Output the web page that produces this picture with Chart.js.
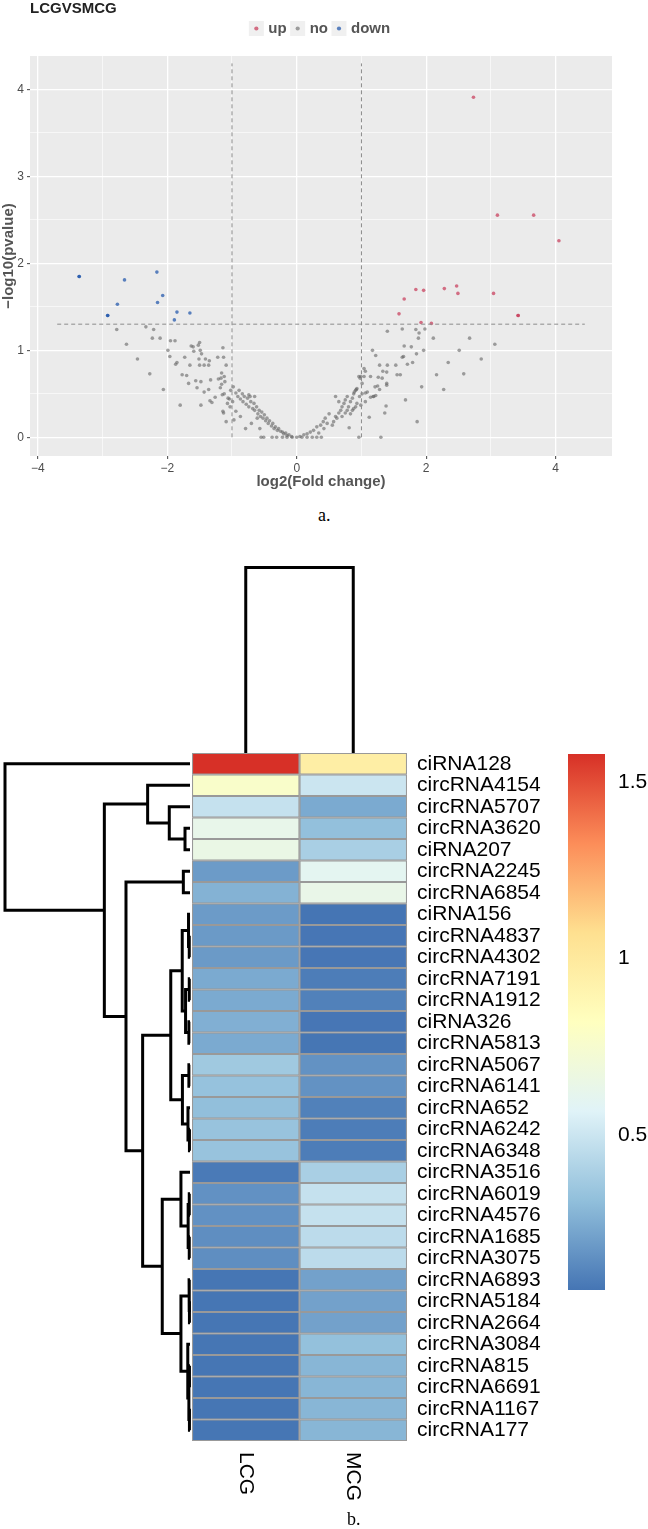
<!DOCTYPE html>
<html>
<head>
<meta charset="utf-8">
<script src="https://cdn.jsdelivr.net/npm/chart.js@4.4.1/dist/chart.umd.min.js"></script>
<style>
  body { margin: 0; background: #fff; }
  #fig { position: relative; width: 648px; height: 1529px; overflow: hidden; background: #fff; }
  #fig canvas { position: absolute; }
  .cap { position: absolute; font-family: "Liberation Serif", serif; font-size: 18px; color: #000; }
</style>
</head>
<body>
<div id="fig">
  <canvas id="volcano" width="648" height="500" style="left:0;top:0"></canvas>
  <div class="cap" style="left:318px;top:505px">a.</div>
  <canvas id="colTree" width="215" height="193" style="left:192px;top:560px"></canvas>
  <canvas id="rowTree" width="192" height="714" style="left:0;top:740px"></canvas>
  <canvas id="heat" width="458" height="789" style="left:190px;top:740px"></canvas>
  <canvas id="scaleBar" width="88" height="556" style="left:560px;top:744px"></canvas>
  <div class="cap" style="left:347px;top:1509px">b.</div>
</div>
<script>
// ---------- a. volcano plot data (log2 fold change, -log10 p) ----------
const upPoints = [
    [2.73, 3.91], [3.10, 2.555], [3.66, 2.555], [4.05, 2.26],
    [1.58, 1.42], [1.66, 1.59], [1.84, 1.70], [1.96, 1.69], [2.28, 1.71],
    [2.47, 1.74], [2.49, 1.655], [3.04, 1.655], [3.42, 1.40], [3.42, 1.40],
    [1.92, 1.32], [2.08, 1.31]
];
const downPoints = [
    [-3.36, 1.85], [-3.36, 1.85], [-2.66, 1.81], [-2.16, 1.90], [-2.07, 1.63],
    [-2.15, 1.55], [-2.77, 1.53], [-2.92, 1.40], [-2.92, 1.40], [-1.85, 1.44],
    [-1.65, 1.43], [-1.89, 1.35]
];
const noPoints = [
    [-2.78, 1.24], [-2.33, 1.27], [-2.21, 1.24], [-2.63, 1.07], [-2.23, 1.14], [-2.11, 1.14],
    [-2.46, 0.90], [-2.27, 0.73], [-2.06, 0.55], [-1.99, 1.00], [-1.96, 0.93], [-1.95, 1.11],
    [-1.88, 1.11], [-1.87, 0.84], [-1.85, 0.86], [-1.73, 0.92], [-1.80, 0.37], [-1.77, 0.72],
    [-1.70, 0.71], [-1.67, 0.62], [-1.65, 0.83], [-1.63, 1.05], [-1.60, 1.04], [-1.59, 0.99],
    [-1.56, 0.65], [-1.54, 0.57], [-1.52, 1.06], [-1.50, 1.09], [-1.51, 0.90], [-1.50, 0.83],
    [-1.48, 0.37], [-1.49, 1.00], [-1.47, 0.96], [-1.48, 0.64], [-1.43, 0.52], [-1.43, 0.83],
    [-1.41, 0.90], [-1.36, 0.83], [-1.35, 0.88], [-1.36, 0.55], [-1.33, 0.66], [-1.34, 0.42],
    [-1.31, 0.40], [-1.26, 0.46], [-1.22, 0.92], [-1.21, 0.67], [-1.17, 0.68], [-1.16, 0.74],
    [-1.16, 0.61], [-1.15, 0.49], [-1.14, 0.30], [-1.13, 0.28], [-1.14, 1.03], [-1.13, 0.92],
    [-1.12, 0.70], [-1.11, 0.64], [-1.09, 0.83], [-1.09, 0.18], [-1.07, 0.39], [-1.04, 0.44],
    [-1.02, 0.54], [-0.98, 0.58], [-0.94, 0.51], [-0.91, 0.47], [-0.89, 0.54], [-0.87, 0.44],
    [-0.84, 0.50], [-0.83, 0.41], [-0.81, 0.47], [-0.78, 0.38], [-0.76, 0.45], [-0.74, 0.35],
    [-0.72, 0.47], [-0.71, 0.41], [-0.68, 0.33], [-0.66, 0.39], [-0.65, 0.31], [-0.62, 0.35],
    [-0.60, 0.27], [-0.58, 0.31], [-0.56, 0.24], [-0.54, 0.29], [-0.52, 0.22], [-0.50, 0.26],
    [-0.48, 0.19], [-0.46, 0.22], [-0.44, 0.16], [-0.42, 0.19], [-0.39, 0.13], [-0.37, 0.16],
    [-0.35, 0.10], [-0.33, 0.12], [-0.30, 0.08], [-0.28, 0.10], [-0.25, 0.07], [-0.22, 0.06],
    [-0.20, 0.04], [-0.17, 0.05], [-0.15, 0.02], [-0.12, 0.03], [-0.08, 0.01],
    [-0.97, 0.20], [-0.87, 0.24], [-0.79, 0.10], [-0.70, 0.16], [-0.61, 0.22], [-0.57, 0.10],
    [-0.65, 0.47], [-0.74, 0.49], [-0.94, 0.30], [-1.03, 0.35], [-0.99, 0.41], [-1.06, 0.45],
    [-1.12, 0.50], [-1.18, 0.57],
    [-0.55, 0.0], [-0.51, 0.0], [-0.38, 0.0], [-0.31, 0.0], [-0.22, 0.0], [-0.15, 0.0],
    [-0.07, 0.0], [0.0, 0.0], [0.08, 0.0], [0.16, 0.0], [0.24, 0.0], [0.31, 0.0], [0.38, 0.0],
    [0.05, 0.01], [0.11, 0.03], [0.16, 0.04], [0.21, 0.06], [0.26, 0.08], [0.31, 0.12],
    [0.37, 0.14], [0.41, 0.18], [0.44, 0.22], [0.50, 0.27], [0.47, 0.16], [0.42, 0.10],
    [0.34, 0.05], [0.55, 0.14], [0.57, 0.18], [0.60, 0.24], [0.62, 0.22], [0.65, 0.28],
    [0.68, 0.31], [0.70, 0.35], [0.73, 0.39], [0.75, 0.43], [0.78, 0.47], [0.80, 0.35],
    [0.83, 0.41], [0.86, 0.45], [0.88, 0.50], [0.91, 0.54], [0.93, 0.56], [0.97, 0.47],
    [1.01, 0.62], [0.60, 0.47], [0.65, 0.41], [0.70, 0.24], [0.75, 0.28], [0.86, 0.31],
    [0.91, 0.35], [0.96, 0.70], [0.99, 0.70],
    [1.40, 1.22], [1.63, 1.245], [1.84, 1.24], [1.89, 1.20], [1.88, 1.14], [1.98, 1.245],
    [2.11, 1.14], [2.67, 1.14], [3.06, 1.07], [2.51, 1.00], [1.96, 1.00], [1.85, 0.96],
    [1.66, 1.05], [1.77, 1.04], [1.65, 0.93], [1.63, 0.92], [1.71, 0.84], [1.79, 0.86],
    [2.34, 0.86], [2.85, 0.90], [1.53, 0.83], [1.40, 0.83], [1.28, 0.83], [1.33, 0.76],
    [1.39, 0.75], [1.55, 0.72], [1.60, 0.72], [2.16, 0.72], [2.58, 0.73], [1.39, 0.62],
    [1.39, 0.60], [1.32, 0.68], [1.26, 0.69], [1.21, 0.58], [1.93, 0.58], [2.27, 0.55],
    [1.68, 0.43], [1.38, 0.36], [1.36, 0.28], [1.86, 0.18], [1.30, 0.0], [0.96, 0.0],
    [1.12, 0.23], [0.81, 0.11], [1.17, 1.00], [1.22, 0.94], [1.14, 0.70], [1.04, 0.70],
    [1.04, 0.79], [1.06, 0.76], [0.98, 0.68], [1.22, 0.48], [1.19, 0.47], [1.14, 0.46],
    [1.09, 0.52], [1.06, 0.51], [1.01, 0.50], [1.06, 0.41], [0.99, 0.37], [0.93, 0.39],
    [0.92, 0.55], [0.89, 0.52], [0.88, 0.33], [0.83, 0.27], [0.78, 0.31], [1.28, 0.55],
    [1.25, 0.59], [1.18, 0.47]
];
const fcCut = 1;            // |log2FC| threshold
const pCut = 1.301;         // -log10(0.05)
const cutTop = 4.3;
const cutSpan = [-3.7, 4.45];
const xMajor = [-4, -2, 0, 2, 4];
const xMinor = [-3, -1, 1, 3];
const yMajor = [0, 1, 2, 3, 4];
const yMinor = [0.5, 1.5, 2.5, 3.5];

// ---------- b. heatmap data ----------
const rowNames = [
    'ciRNA128', 'circRNA4154', 'circRNA5707', 'circRNA3620', 'ciRNA207', 'circRNA2245',
    'circRNA6854', 'ciRNA156', 'circRNA4837', 'circRNA4302', 'circRNA7191', 'circRNA1912',
    'ciRNA326', 'circRNA5813', 'circRNA5067', 'circRNA6141', 'circRNA652', 'circRNA6242',
    'circRNA6348', 'circRNA3516', 'circRNA6019', 'circRNA4576', 'circRNA1685', 'circRNA3075',
    'circRNA6893', 'circRNA5184', 'circRNA2664', 'circRNA3084', 'circRNA815', 'circRNA6691',
    'circRNA1167', 'circRNA177'
];
const colNames = ['LCG', 'MCG'];
const lcgVals = [
    1.58, 0.77, 0.48, 0.63, 0.65, 0.19, 0.27, 0.19, 0.185, 0.185, 0.24, 0.24,
    0.26, 0.24, 0.36, 0.33, 0.315, 0.335, 0.335, 0.077, 0.157, 0.157, 0.146, 0.146,
    0.062, 0.062, 0.062, 0.062, 0.062, 0.062, 0.062, 0.062
];
const mcgVals = [
    0.96, 0.50, 0.24, 0.32, 0.39, 0.60, 0.64, 0.06, 0.065, 0.065, 0.087, 0.10,
    0.065, 0.062, 0.16, 0.16, 0.10, 0.087, 0.087, 0.39, 0.48, 0.48, 0.45, 0.45,
    0.212, 0.212, 0.212, 0.323, 0.283, 0.283, 0.283, 0.283
];
// hclust-style merges: negative = leaf (row/col index + 1), positive = earlier merge
const rowMerges = [
    [-9, -10, 0.004], [-8, 1, 0.008], [-11, -12, 0.004], [-13, -14, 0.006], [3, 4, 0.024],
    [2, 5, 0.042], [-15, -16, 0.006], [-18, -19, 0.003], [-17, 8, 0.011], [7, 9, 0.041],
    [6, 10, 0.104], [-21, -22, 0.004], [-23, -24, 0.004], [12, 13, 0.010], [-20, 14, 0.049],
    [-26, -27, 0.003], [-25, 16, 0.005], [-29, -30, 0.003], [-31, -32, 0.003], [18, 19, 0.006],
    [-28, 20, 0.012], [17, 21, 0.049], [15, 22, 0.150], [11, 23, 0.256], [-6, -7, 0.036],
    [25, 24, 0.346], [-4, -5, 0.027], [-3, 27, 0.112], [-2, 28, 0.229], [29, 26, 0.463],
    [-1, 30, 1.0]
];
const colMerges = [[-1, -2, 1.0]];
const heatPalette = ['#4575B4', '#91BFDB', '#E0F3F8', '#FFFFBF', '#FEE090', '#FC8D59', '#D73027'];
const scaleTicks = [0.5, 1, 1.5];

const FONT = '"Liberation Sans", Arial, sans-serif';
const upColor = 'rgba(200, 60, 90, 0.72)';
const noColor = 'rgba(100, 100, 100, 0.6)';
const downColor = 'rgba(30, 85, 170, 0.72)';

// ---------- volcano ----------
const toXY = pts => pts.map(p => ({x: p[0], y: p[1]}));
const pointSet = (label, pts, color) => ({
    label: label,
    data: toXY(pts),
    backgroundColor: color,
    borderWidth: 0,
    pointRadius: 1.8
});
const cutLine = data => ({
    type: 'line',
    data: data,
    borderColor: '#8c8c8c',
    borderWidth: 1,
    borderDash: [4, 3],
    pointRadius: 0,
    fill: false,
    order: -1
});
const isMember = (arr, v) => arr.some(a => Math.abs(a - v) < 1e-9);

// grey panel background and legend key squares like ggplot
const panelBg = {
    id: 'panelBg',
    beforeDraw(chart) {
        const {ctx, chartArea: a, legend} = chart;
        ctx.save();
        ctx.fillStyle = '#EBEBEB';
        ctx.fillRect(a.left, a.top, a.right - a.left, a.bottom - a.top);
        ctx.fillStyle = '#F0F0F0';
        const half = legend.options.labels.boxWidth / 2;
        (legend.legendHitBoxes || []).forEach(hb => {
            const cx = hb.left + half;
            const cy = hb.top + hb.height / 2;
            ctx.fillRect(cx - 7.5, cy - 7.5, 15, 15);
        });
        ctx.restore();
    }
};
// extra gap under the legend
const legendGap = {
    id: 'legendGap',
    beforeInit(chart) {
        const fit = chart.legend.fit;
        chart.legend.fit = function () {
            fit.bind(chart.legend)();
            this.height += 10;
        };
    }
};

new Chart(document.getElementById('volcano'), {
    type: 'scatter',
    data: {
        datasets: [
            pointSet('up', upPoints, upColor),
            pointSet('no', noPoints, noColor),
            pointSet('down', downPoints, downColor),
            cutLine([{x: -fcCut, y: 0}, {x: -fcCut, y: cutTop}]),
            cutLine([{x: fcCut, y: 0}, {x: fcCut, y: cutTop}]),
            cutLine([{x: cutSpan[0], y: pCut}, {x: cutSpan[1], y: pCut}])
        ]
    },
    options: {
        responsive: false,
        animation: false,
        layout: {padding: {left: 0, right: 36, top: 0, bottom: 8}},
        plugins: {
            title: {
                display: true,
                text: 'LCGVSMCG',
                align: 'start',
                fullSize: false,
                color: '#222',
                font: {family: FONT, size: 15, weight: 'bold'},
                padding: {top: 0, bottom: -3.5}
            },
            legend: {
                display: true,
                position: 'top',
                fullSize: false,
                labels: {
                    filter: item => item.datasetIndex < 3,
                    usePointStyle: true,
                    pointStyle: 'circle',
                    boxWidth: 9,
                    boxHeight: 3,
                    padding: 6.5,
                    color: '#555',
                    font: {family: FONT, size: 15, weight: 'bold'}
                }
            },
            tooltip: {enabled: false}
        },
        scales: {
            x: {
                type: 'linear',
                min: -4.12,
                max: 4.87,
                afterBuildTicks: s => { s.ticks = xMajor.concat(xMinor).sort((a, b) => a - b).map(v => ({value: v})); },
                afterFit: s => { s.height = 36; },
                border: {display: false},
                grid: {
                    color: '#fff',
                    lineWidth: c => (c.tick && isMember(xMajor, c.tick.value)) ? 1.3 : 0.6,
                    tickColor: c => (c.tick && isMember(xMajor, c.tick.value)) ? '#444' : 'rgba(0,0,0,0)',
                    tickLength: 3,
                    tickWidth: 1
                },
                ticks: {
                    autoSkip: false,
                    maxRotation: 0,
                    padding: 2,
                    color: '#4d4d4d',
                    font: {family: FONT, size: 12},
                    callback: v => isMember(xMajor, v) ? String(v).replace('-', '\u2212') : ''
                },
                title: {
                    display: true,
                    text: 'log2(Fold change)',
                    color: '#555',
                    font: {family: FONT, size: 15, weight: 'bold'},
                    padding: {top: 0, bottom: 1}
                }
            },
            y: {
                type: 'linear',
                min: -0.215,
                max: 4.385,
                afterBuildTicks: s => { s.ticks = yMajor.concat(yMinor).sort((a, b) => a - b).map(v => ({value: v})); },
                afterFit: s => { s.width = 30; },
                border: {display: false},
                grid: {
                    color: '#fff',
                    lineWidth: c => (c.tick && isMember(yMajor, c.tick.value)) ? 1.3 : 0.6,
                    tickColor: c => (c.tick && isMember(yMajor, c.tick.value)) ? '#444' : 'rgba(0,0,0,0)',
                    tickLength: 3,
                    tickWidth: 1
                },
                ticks: {
                    autoSkip: false,
                    padding: 3,
                    color: '#4d4d4d',
                    font: {family: FONT, size: 12},
                    callback: v => isMember(yMajor, v) ? String(v) : ''
                },
                title: {
                    display: true,
                    text: '\u2212log10(pvalue)',
                    color: '#555',
                    font: {family: FONT, size: 15, weight: 'bold'},
                    padding: {top: 0, bottom: 0}
                }
            }
        }
    },
    plugins: [panelBg, legendGap]
});

// ---------- heatmap helpers ----------
const allVals = lcgVals.concat(mcgVals);
const vmin = Math.min(...allVals);
const vmax = Math.max(...allVals);

function hexToRgb(h) {
    const n = parseInt(h.slice(1), 16);
    return [(n >> 16) & 255, (n >> 8) & 255, n & 255];
}
function heatColor(v) {
    const t = Math.max(0, Math.min(1, (v - vmin) / (vmax - vmin))) * (heatPalette.length - 1);
    const i = Math.min(Math.floor(t), heatPalette.length - 2);
    const f = t - i;
    const a = hexToRgb(heatPalette[i]);
    const b = hexToRgb(heatPalette[i + 1]);
    const c = a.map((x, k) => Math.round(x + (b[k] - x) * f));
    return 'rgb(' + c.join(',') + ')';
}

// turn merges into U-shaped polylines (pos = leaf axis, h = height)
function treeSegments(merges) {
    const pos = [];
    const hgt = [];
    const place = id => id < 0 ? {p: -id - 1, h: 0} : {p: pos[id - 1], h: hgt[id - 1]};
    return merges.map((m, i) => {
        const A = place(m[0]);
        const B = place(m[1]);
        pos[i] = (A.p + B.p) / 2;
        hgt[i] = m[2];
        return [{p: A.p, h: A.h}, {p: A.p, h: m[2]}, {p: B.p, h: m[2]}, {p: B.p, h: B.h}];
    });
}
const treeLine = data => ({
    data: data,
    showLine: true,
    borderColor: '#000',
    borderWidth: 3,
    borderJoinStyle: 'miter',
    pointRadius: 0,
    fill: false,
    clip: false
});
// no extra label padding at the ends of a vertical axis
const noEndPadding = s => { s.paddingTop = 0; s.paddingBottom = 0; };

// ---------- row dendrogram ----------
new Chart(document.getElementById('rowTree'), {
    type: 'scatter',
    data: {datasets: treeSegments(rowMerges).map(seg => treeLine(seg.map(q => ({x: q.h, y: q.p}))))},
    options: {
        responsive: false,
        animation: false,
        layout: {padding: {left: 5, right: 2, top: 13, bottom: 13}},
        plugins: {legend: {display: false}, tooltip: {enabled: false}},
        scales: {
            x: {type: 'linear', reverse: true, min: 0, max: 1, display: false},
            y: {type: 'linear', reverse: true, min: -0.5, max: rowNames.length - 0.5, display: false}
        }
    }
});

// ---------- column dendrogram ----------
new Chart(document.getElementById('colTree'), {
    type: 'scatter',
    data: {datasets: treeSegments(colMerges).map(seg => treeLine(seg.map(q => ({x: q.p, y: q.h}))))},
    options: {
        responsive: false,
        animation: false,
        layout: {padding: 0},
        plugins: {legend: {display: false}, tooltip: {enabled: false}},
        scales: {
            x: {type: 'linear', min: -0.5, max: colNames.length - 0.5, display: false},
            y: {type: 'linear', min: 0, max: 1.04, display: false}
        }
    }
});

// ---------- heatmap cells ----------
const colLabels = {
    id: 'colLabels',
    afterDraw(chart) {
        const {ctx, chartArea, scales: {x}} = chart;
        ctx.save();
        ctx.font = '21px ' + FONT;
        ctx.fillStyle = '#000';
        ctx.textAlign = 'left';
        ctx.textBaseline = 'middle';
        colNames.forEach((name, j) => {
            ctx.save();
            ctx.translate(x.getPixelForValue(j + 0.5), chartArea.bottom + 11);
            ctx.rotate(Math.PI / 2);
            ctx.fillText(name, 0, 0);
            ctx.restore();
        });
        ctx.restore();
    }
};

new Chart(document.getElementById('heat'), {
    type: 'bar',
    data: {
        labels: rowNames,
        datasets: [lcgVals, mcgVals].map((vals, j) => ({
            label: colNames[j],
            data: vals.map(() => 1),
            backgroundColor: vals.map(heatColor),
            borderColor: '#999999',
            borderWidth: 1.4,
            borderSkipped: false,
            barPercentage: 1,
            categoryPercentage: 1
        }))
    },
    options: {
        indexAxis: 'y',
        responsive: false,
        animation: false,
        layout: {padding: {left: 2, right: 0, top: 13, bottom: 88}},
        plugins: {legend: {display: false}, tooltip: {enabled: false}},
        scales: {
            x: {stacked: true, min: 0, max: colNames.length, display: false},
            y: {
                stacked: true,
                position: 'right',
                afterFit: s => { s.width = 241; noEndPadding(s); },
                grid: {display: false, drawTicks: false},
                border: {display: false},
                ticks: {autoSkip: false, padding: 10, color: '#000', font: {family: FONT, size: 21}}
            }
        }
    },
    plugins: [colLabels]
});

// ---------- colour key ----------
new Chart(document.getElementById('scaleBar'), {
    type: 'bar',
    data: {
        labels: [''],
        datasets: [{
            data: [[vmin, vmax]],
            borderWidth: 0,
            barPercentage: 1,
            categoryPercentage: 1,
            backgroundColor: c => {
                const chart = c.chart;
                if (!chart.chartArea) return heatPalette[0];
                const y = chart.scales.y;
                const g = chart.ctx.createLinearGradient(0, y.getPixelForValue(vmin), 0, y.getPixelForValue(vmax));
                heatPalette.forEach((col, i) => g.addColorStop(i / (heatPalette.length - 1), col));
                return g;
            }
        }]
    },
    options: {
        responsive: false,
        animation: false,
        layout: {padding: {left: 8, right: 0, top: 10, bottom: 10}},
        plugins: {legend: {display: false}, tooltip: {enabled: false}},
        scales: {
            x: {display: false},
            y: {
                position: 'right',
                min: vmin,
                max: vmax,
                afterBuildTicks: s => { s.ticks = scaleTicks.map(v => ({value: v})); },
                afterFit: s => { s.width = 43; noEndPadding(s); },
                grid: {display: false, drawTicks: false},
                border: {display: false},
                ticks: {padding: 13, color: '#000', font: {family: FONT, size: 21}, callback: v => String(v)}
            }
        }
    }
});
</script>
</body>
</html>
